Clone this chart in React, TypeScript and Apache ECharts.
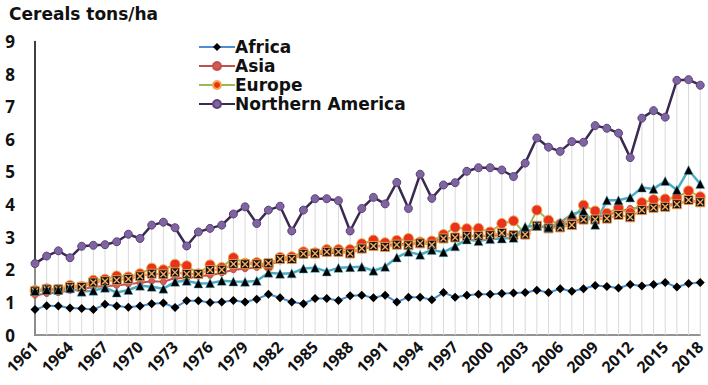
import React, { useEffect, useRef } from "react";
import * as echarts from "echarts";

const years: string[] = [];
for (let y = 1961; y <= 2018; y++) years.push(String(y));

const africa = [0.78, 0.90, 0.89, 0.83, 0.81, 0.78, 0.94, 0.89, 0.85, 0.89, 0.96, 0.98, 0.84, 1.05, 1.05, 1.00, 1.01, 1.06, 1.01, 1.10, 1.25, 1.14, 1.01, 0.96, 1.12, 1.12, 1.06, 1.20, 1.22, 1.14, 1.22, 1.01, 1.16, 1.16, 1.08, 1.30, 1.16, 1.22, 1.25, 1.25, 1.27, 1.29, 1.30, 1.37, 1.30, 1.42, 1.34, 1.42, 1.52, 1.49, 1.44, 1.55, 1.50, 1.55, 1.61, 1.47, 1.58, 1.61];
const asia = [1.22, 1.27, 1.30, 1.37, 1.40, 1.47, 1.50, 1.52, 1.56, 1.60, 1.65, 1.63, 1.75, 1.73, 1.80, 1.83, 1.90, 2.00, 2.03, 2.07, 2.15, 2.27, 2.35, 2.45, 2.47, 2.50, 2.52, 2.55, 2.62, 2.72, 2.75, 2.78, 2.80, 2.82, 2.86, 2.95, 2.98, 3.02, 3.04, 3.02, 3.08, 3.08, 3.15, 3.30, 3.32, 3.36, 3.45, 3.58, 3.60, 3.68, 3.78, 3.88, 3.90, 3.95, 3.98, 4.03, 4.10, 4.08];
const europe = [1.37, 1.42, 1.40, 1.52, 1.49, 1.68, 1.71, 1.81, 1.78, 1.88, 2.05, 2.00, 2.17, 2.12, 1.88, 2.15, 2.07, 2.37, 2.20, 2.22, 2.10, 2.38, 2.40, 2.55, 2.52, 2.62, 2.62, 2.62, 2.80, 2.91, 2.83, 2.90, 2.96, 2.85, 2.88, 3.08, 3.30, 3.26, 3.27, 3.16, 3.42, 3.50, 3.10, 3.83, 3.52, 3.40, 3.55, 3.98, 3.80, 3.73, 3.90, 3.75, 4.06, 4.15, 4.17, 4.21, 4.42, 4.24];
const northernAmerica = [2.19, 2.42, 2.58, 2.37, 2.72, 2.75, 2.77, 2.86, 3.09, 2.96, 3.37, 3.46, 3.29, 2.73, 3.16, 3.27, 3.37, 3.71, 3.93, 3.42, 3.83, 3.95, 3.19, 3.83, 4.18, 4.18, 4.12, 3.19, 3.88, 4.22, 4.02, 4.68, 3.88, 4.93, 4.19, 4.60, 4.67, 5.02, 5.13, 5.13, 5.06, 4.86, 5.27, 6.04, 5.76, 5.63, 5.93, 5.91, 6.42, 6.34, 6.19, 5.44, 6.65, 6.88, 6.68, 7.81, 7.83, 7.66];
const triangleSeries = [1.35, 1.38, 1.38, 1.43, 1.33, 1.36, 1.45, 1.30, 1.38, 1.51, 1.48, 1.42, 1.63, 1.66, 1.58, 1.59, 1.66, 1.64, 1.63, 1.66, 1.91, 1.88, 1.89, 2.04, 2.06, 1.95, 2.06, 2.08, 2.09, 1.97, 2.09, 2.38, 2.55, 2.46, 2.61, 2.54, 2.72, 2.93, 2.88, 2.94, 2.96, 2.98, 3.32, 3.35, 3.30, 3.45, 3.70, 3.81, 3.38, 4.13, 4.13, 4.22, 4.52, 4.48, 4.72, 4.45, 5.06, 4.63];
const squareSeries = [1.34, 1.40, 1.40, 1.47, 1.47, 1.61, 1.65, 1.68, 1.72, 1.80, 1.88, 1.86, 1.92, 1.87, 1.87, 1.99, 2.00, 2.18, 2.17, 2.17, 2.20, 2.33, 2.33, 2.49, 2.50, 2.55, 2.55, 2.50, 2.65, 2.73, 2.70, 2.77, 2.75, 2.81, 2.77, 2.96, 2.99, 3.04, 3.04, 3.06, 3.13, 3.06, 3.08, 3.35, 3.27, 3.30, 3.37, 3.54, 3.54, 3.57, 3.68, 3.61, 3.83, 3.90, 3.93, 4.01, 4.14, 4.07];

const legendNames = ["Africa", "Asia", "Europe", "Northern America"];
const yTicks = { min: 0, max: 9, interval: 1 };

const FONT = "'Open Sans', 'Liberation Sans', sans-serif";
const WIDE = "'DejaVu Sans', 'Open Sans', sans-serif";
const X_PATH = "path://M0,1.4L1.4,0L5,3.6L8.6,0L10,1.4L6.4,5L10,8.6L8.6,10L5,6.4L1.4,10L0,8.6L3.6,5Z";

export default function App() {
  const ref = useRef<HTMLDivElement>(null);
  useEffect(() => {
    if (!ref.current) return;
    const chart = echarts.init(ref.current, undefined, { renderer: "svg" });
    const line = (extra: any) => ({ type: "line", showAllSymbol: true, z: 3, ...extra });
    chart.setOption({
      animation: false,
      backgroundColor: "#ffffff",
      title: {
        text: "Cereals tons/ha",
        left: 4,
        top: 0,
        textStyle: { fontFamily: WIDE, fontSize: 17, fontWeight: "bold", color: "#111" },
      },
      legend: {
        data: legendNames,
        orient: "vertical",
        left: 193,
        top: 33,
        itemWidth: 36,
        itemHeight: 10,
        itemGap: 1,
        selectedMode: false,
        textStyle: {
          fontFamily: WIDE,
          fontSize: 17,
          lineHeight: 18,
          fontWeight: "bold",
          color: "#111",
          padding: [0, 0, 0, -5],
        },
      },
      grid: { left: 35, right: 6, top: 41.5, bottom: 50, containLabel: false },
      xAxis: {
        type: "category",
        data: years,
        boundaryGap: false,
        axisLine: { lineStyle: { color: "#707070", width: 1.5 } },
        axisTick: { show: false },
        splitLine: { show: false },
        axisLabel: {
          rotate: 45,
          interval: 2,
          margin: 9,
          fontFamily: FONT,
          fontSize: 16,
          fontWeight: "bold",
          color: "#111",
        },
      },
      yAxis: {
        type: "value",
        min: yTicks.min,
        max: yTicks.max,
        interval: yTicks.interval,
        axisLine: { show: true, lineStyle: { color: "#000", width: 1.5 } },
        axisTick: { show: false },
        splitLine: { show: false },
        axisLabel: {
          margin: 20,
          fontFamily: FONT,
          fontSize: 17,
          fontWeight: "bold",
          color: "#111",
        },
      },
      series: [
        {
          name: "drop",
          type: "bar",
          data: northernAmerica,
          barWidth: 1,
          silent: true,
          itemStyle: { color: "#dadada" },
          z: 1,
        },
        line({
          name: "Africa",
          data: africa,
          symbol: "diamond",
          symbolSize: 9,
          lineStyle: { color: "#4a8fd0", width: 2 },
          itemStyle: { color: "#000" },
        }),
        line({
          name: "Asia",
          data: asia,
          symbol: "circle",
          symbolSize: 6,
          lineStyle: { color: "#c0504d", width: 2 },
          itemStyle: { color: "#d45a55", borderColor: "#c0504d", borderWidth: 1 },
        }),
        line({
          name: "Europe",
          data: europe,
          symbol: "circle",
          symbolSize: 10,
          lineStyle: { color: "#9bbb59", width: 2 },
          itemStyle: { color: "#e8321e", borderColor: "#f0a848", borderWidth: 1 },
        }),
        line({
          name: "Square",
          data: squareSeries,
          symbol: "rect",
          symbolSize: 9,
          lineStyle: { color: "#f79646", width: 2 },
          itemStyle: { color: "#111", borderColor: "#e8964a", borderWidth: 1 },
        }),
        line({
          name: "SquareX",
          data: squareSeries,
          symbol: X_PATH,
          symbolSize: 7,
          lineStyle: { opacity: 0, width: 0 },
          itemStyle: { color: "#f2a860" },
        }),
        line({
          name: "Triangle",
          data: triangleSeries,
          symbol: "triangle",
          symbolSize: 9,
          lineStyle: { color: "#4bacc6", width: 2.5 },
          itemStyle: { color: "#000", borderColor: "#4bacc6", borderWidth: 0.5 },
        }),
        line({
          name: "Northern America",
          data: northernAmerica,
          symbol: "circle",
          symbolSize: 8,
          lineStyle: { color: "#3a2a50", width: 2.5 },
          itemStyle: { color: "#8064a2", borderColor: "#5a4478", borderWidth: 1 },
        }),
      ],
    });
    return () => chart.dispose();
  }, []);
  return <div ref={ref} style={{ width: 708, height: 385, position: "absolute", left: 0, top: 0 }} />;
}
